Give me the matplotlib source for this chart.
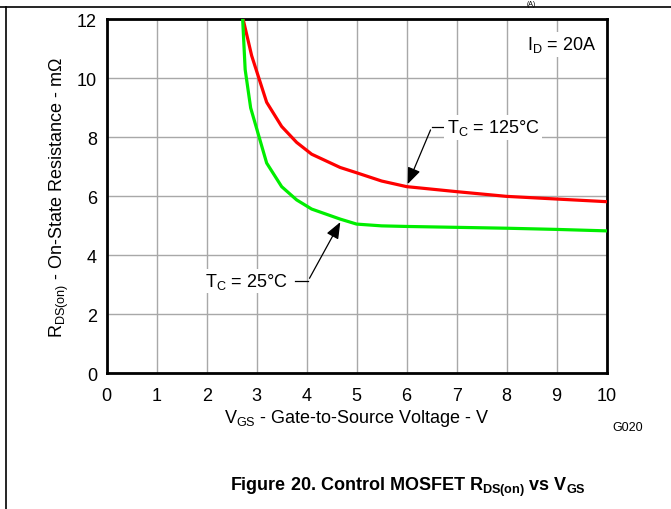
import numpy as np
import matplotlib.pyplot as plt
from matplotlib.lines import Line2D

plt.rcParams['font.family'] = ['Liberation Sans', 'DejaVu Sans']
plt.rcParams['mathtext.fontset'] = 'custom'
plt.rcParams['mathtext.rm'] = 'Liberation Sans'
plt.rcParams['mathtext.bf'] = 'Liberation Sans:bold'

# ==============================
# data
# ==============================
vgs_125 = [2.73, 2.9, 3.2, 3.5, 3.8, 4.1, 4.67, 5.0, 5.5, 6.0, 7.0, 8.0, 9.0, 10.0]
rds_125 = [12.0, 10.77, 9.19, 8.37, 7.83, 7.43, 6.98, 6.80, 6.52, 6.33, 6.16, 6.0, 5.91, 5.82]

vgs_25 = [2.72, 2.77, 2.88, 3.2, 3.5, 3.8, 4.1, 4.67, 5.0, 5.5, 6.0, 7.0, 8.0, 9.0, 10.0]
rds_25 = [12.0, 10.3, 9.0, 7.13, 6.33, 5.88, 5.57, 5.23, 5.06, 5.0, 4.98, 4.95, 4.92, 4.88, 4.83]

x_ticks = list(range(0, 11))
y_ticks = list(range(0, 13, 2))

# ==============================
# figure
# ==============================
fig = plt.figure(figsize=(6.71, 5.10), dpi=100)
ax = fig.add_axes([0.159, 0.266, 0.745, 0.694])

ax.plot(vgs_125, rds_125, color='#ff0000', lw=2.3, zorder=3)
ax.plot(vgs_25, rds_25, color='#00ee00', lw=2.3, zorder=3)

ax.set_xlim(0, 10)
ax.set_ylim(0, 12)
ax.set_xticks(x_ticks)
ax.set_yticks(y_ticks)
ax.grid(True, color='#a8a8a8', lw=1.0)
ax.tick_params(length=0, labelsize=13)
ax.tick_params(axis='x', pad=10)
ax.tick_params(axis='y', pad=7)
for s in ax.spines.values():
    s.set_linewidth(2.0)

ax.set_xlabel(r'V$_{\mathrm{GS}}$ - Gate-to-Source Voltage - V', fontsize=13, labelpad=2)
ax.set_ylabel(r'R$_{\mathrm{DS(on)}}$ - On-State Resistance - m$\Omega$', fontsize=13, labelpad=4)

# annotations
box = dict(facecolor='white', edgecolor='none', pad=1.5)
ax.text(9.8, 11.15, r'I$_{\mathrm{D}}$ = 20A', fontsize=13, ha='right', va='center', bbox=box)

arrow = dict(arrowstyle='-|>,head_length=1.0,head_width=0.4', color='black', lw=0.9)
ax.annotate('', xy=(6.0, 6.33), xytext=(6.5, 8.34), arrowprops=arrow)
ax.plot([6.5, 6.76], [8.34, 8.34], color='black', lw=0.9)
ax.text(6.8, 8.34, r'T$_{\mathrm{C}}$ = 125°C', fontsize=13, ha='left', va='center', bbox=box, zorder=4)

ax.annotate('', xy=(4.7, 5.21), xytext=(4.03, 3.14), arrowprops=arrow)
ax.plot([3.77, 4.03], [3.14, 3.14], color='black', lw=0.9)
ax.text(3.63, 3.14, r'T$_{\mathrm{C}}$ = 25°C', fontsize=13, ha='right', va='center', bbox=box, zorder=4)

fig.text(612 / 671, 1 - 428 / 510, 'G020', fontsize=9, ha='left', va='center')
fig.text(0.608, 1 - 487 / 510, r'Figure 20. Control MOSFET R$_{\mathbf{DS(on)}}$ vs V$_{\mathbf{GS}}$',
         fontsize=13, fontweight='bold', ha='center', va='center')
fig.text(531 / 671, 0.999, '(A)', fontsize=5, ha='center', va='top')

# page frame
fig.add_artist(Line2D([0, 1], [1 - 7.5 / 510] * 2, color='black', lw=1.2, transform=fig.transFigure))
fig.add_artist(Line2D([6 / 671] * 2, [0, 1 - 7.5 / 510], color='black', lw=1.2, transform=fig.transFigure))

fig.savefig('out.png', dpi=100)
